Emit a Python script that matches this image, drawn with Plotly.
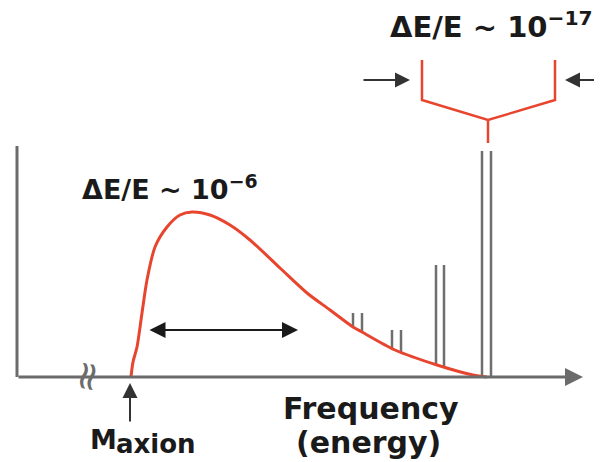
import plotly.graph_objects as go

# ---- data (x: frequency offset from axis origin, y: intensity above axis) ----
curve_x = [114, 116, 120, 125, 130, 138, 150, 163, 175, 193, 213, 233, 263, 290, 313, 336, 345, 378, 420, 456, 470]
curve_y = [0, 15, 30, 64, 97, 130, 150, 162, 165, 162, 152, 137, 109, 84, 67, 50, 45, 27, 12, 2, 0]

# narrow lines (pairs): x positions, top intensity, base on the curve
pair_left_x = [336, 375, 419, 465]
pair_right_x = [345, 384, 427, 474]
pair_top = [64, 47, 112, 226]
pair_base_left = [50, 28, 13, 0]
pair_base_right = [45, 25, 11, 0]

# zoomed bracket (x, y)
bracket_x = [405, 405, 471, 538, 538]
bracket_y = [317, 277, 257, 277, 317]
stem_x = [471, 471]
stem_y = [257, 234]

label_wide = "ΔE/E ~ 10<sup>\u22126</sup>"
label_narrow = "ΔE/E ~ 10<sup>\u221217</sup>"
xlabel_1 = "Frequency"
xlabel_2 = "(energy)"
mass_label = "M"
mass_sub = "axion"

RED = "#e8452f"
GRAY = "#6b6b6b"
LINEGRAY = "#6e6e6e"
BLACK = "#1a1a1a"
FONT = "DejaVu Sans"

fig = go.Figure()

# y axis line
fig.add_trace(go.Scatter(x=[0, 0], y=[0, 231], mode="lines",
                         line=dict(color=GRAY, width=3), hoverinfo="skip"))

# narrow lines
lx, ly = [], []
for xl, xr, top, bl, br in zip(pair_left_x, pair_right_x, pair_top, pair_base_left, pair_base_right):
    lx += [xl, xl, None, xr, xr, None]
    ly += [bl, top, None, br, top, None]
fig.add_trace(go.Scatter(x=lx, y=ly, mode="lines",
                         line=dict(color=LINEGRAY, width=2.5), hoverinfo="skip"))

# broad distribution
fig.add_trace(go.Scatter(x=curve_x, y=curve_y, mode="lines",
                         line=dict(color=RED, width=3, shape="spline", smoothing=0.8),
                         hoverinfo="skip"))

# bracket
fig.add_trace(go.Scatter(x=bracket_x + [None] + stem_x, y=bracket_y + [None] + stem_y,
                         mode="lines", line=dict(color=RED, width=2.5), hoverinfo="skip"))

ann = []
# x axis with arrow
ann.append(dict(x=566, y=0, ax=0, ay=0, xref="x", yref="y", axref="x", ayref="y",
                text="", showarrow=True, arrowhead=2, arrowsize=1.2, arrowwidth=3,
                arrowcolor=GRAY, standoff=0))
# double arrow under curve
ann.append(dict(x=281, y=47, ax=131, ay=47, xref="x", yref="y", axref="x", ayref="y",
                text="", showarrow=True, arrowhead=2, arrowside="end+start", arrowsize=1.6,
                arrowwidth=2, arrowcolor=BLACK, standoff=0, startstandoff=0, startarrowhead=2,
                startarrowsize=1.6))
# arrows pointing at bracket
ann.append(dict(x=393, y=297, ax=345, ay=297, xref="x", yref="y", axref="x", ayref="y",
                text="", showarrow=True, arrowhead=2, arrowsize=1.5, arrowwidth=2,
                arrowcolor="#333333", standoff=0))
ann.append(dict(x=548, y=297, ax=590, ay=297, xref="x", yref="y", axref="x", ayref="y",
                text="", showarrow=True, arrowhead=2, arrowsize=1.5, arrowwidth=2,
                arrowcolor="#333333", standoff=0))
# mass arrow
ann.append(dict(x=113, y=-6, ax=113, ay=-46, xref="x", yref="y", axref="x", ayref="y",
                text="", showarrow=True, arrowhead=2, arrowsize=1.5, arrowwidth=2,
                arrowcolor="#333333", standoff=0))
# break mark
ann.append(dict(x=72, y=0, xref="x", yref="y", text="\u2248", showarrow=False,
                textangle=100, font=dict(family=FONT, size=40, color=GRAY)))

def txt(x, y, s, size):
    return dict(x=x, y=y, xref="x", yref="y", text=s, showarrow=False,
                xanchor="center", yanchor="middle",
                font=dict(family=FONT, size=size, color=BLACK, weight="bold"))

ann.append(txt(474, 352, label_narrow, 29))
ann.append(txt(153, 190, label_wide, 27))
ann.append(txt(354, -31, xlabel_1, 30))
ann.append(txt(351, -65, xlabel_2, 30))
ann.append(txt(86, -62, mass_label, 27))
ann.append(txt(139, -67, mass_sub, 26))

# page body has an 8 px margin: figure is sized/ranged so it fills the window
fig.update_layout(
    width=594, height=454,
    margin=dict(l=0, r=0, t=0, b=0),
    paper_bgcolor="white", plot_bgcolor="white",
    showlegend=False,
    xaxis=dict(range=[-9, 585], visible=False, fixedrange=True),
    yaxis=dict(range=[-85, 369], visible=False, fixedrange=True),
    annotations=ann,
)

fig.write_html("out.html")
